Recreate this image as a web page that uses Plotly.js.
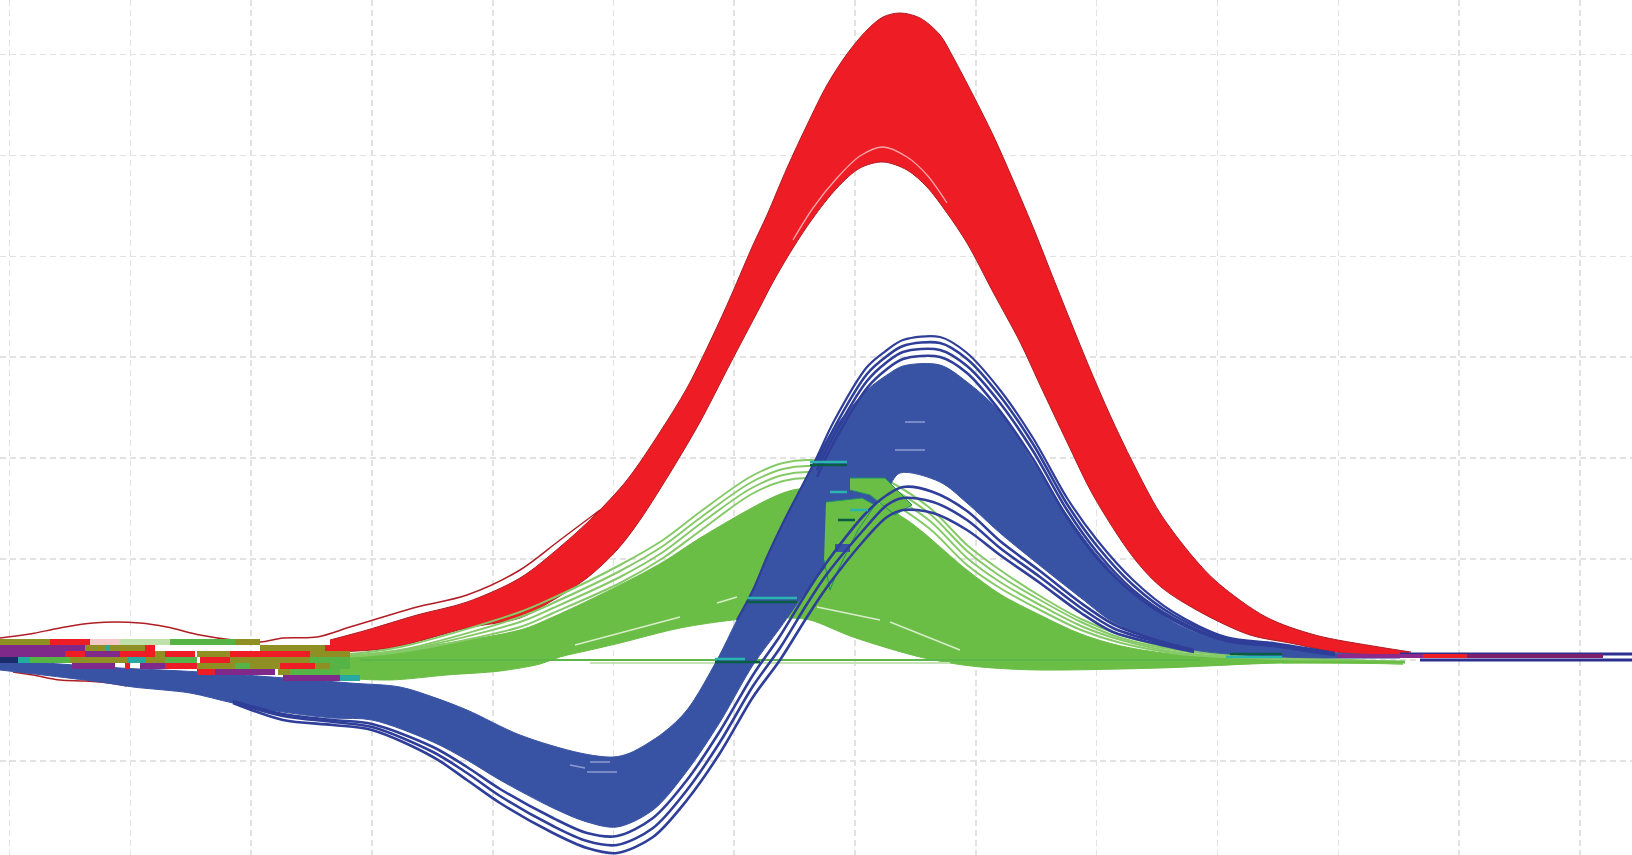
<!DOCTYPE html>
<html><head><meta charset="utf-8">
<script src="https://cdn.plot.ly/plotly-3.0.1.min.js"></script>
<style>html,body{margin:0;padding:0;background:#fff}#c{width:1632px;height:855px;filter:blur(0.55px)}</style>
</head><body><div id="c"></div>
<script>
// Red family
const redUpperX=[330,367,417,467,520,560,593,627,660,687,707,727,753,767,787,807,827,847,867,883,900,920,940,953,973,993,1013,1035,1050,1070,1090,1110,1133,1160,1193,1218,1266,1315,1379,1411];
const redUpper=[20,30,45,58,82,113,143,180,228,272,312,355,415,445,492,535,575,606,630,643,647,642,625,603,565,525,480,428,390,340,291,245,197,147,103,77,43,25,13,8];
const redLowerX=[330,390,467,520,550,587,617,640,673,700,730,760,773,793,813,837,860,883,907,927,947,967,993,1020,1040,1067,1093,1133,1161,1202,1250,1290,1335,1400];
const redLower=[8,12,32,42,58,82,110,140,192,238,296,353,378,412,442,472,492,498,490,473,447,417,368,318,275,218,165,103,73,47,25,17,8,3];
const redOutlierX=[0,30,60,93,140,167,200,233,260,283,317,350,383,417,467,520,560,600];
const redOutlier=[22,26,32,37,37,33,25,20,18,22,23,33,43,53,65,90,120,150];
const redInnerX=[793,813,837,860,883,907,927,947];
const redInner=[420,452,482,504,513,503,485,457];
const redLowTailX=[13,33,60,85,110,127];
const redLowTail=[-12,-15,-20,-21,-23,-26];
// Green family
const greenEdgeX=[340,400,520,553,620,663,700,750,783,810,860,887,930,967,1000,1040,1081,1121,1181,1282,1403];
const green1=[5,13,48,62,95,120,148,183,197,200,192,180,152,115,90,64,41,25,10,3,-2];
const green2=[4,10,43,57,89,114,142,177,191,194,186,174,146,109,84,60,38,22,9,2,-2];
const green3=[3,9,38,52,83,108,136,171,185,188,180,167,139,102,78,55,34,20,7,1,-3];
const green4=[3,8,33,47,77,102,129,165,179,182,173,160,131,95,72,50,30,17,6,1,-3];
const greenCoreTopX=[340,400,520,553,620,663,700,767,793,830,860,907,967,1000,1040,1081,1121,1181,1282,1403];
const greenCoreTop=[3,10,30,43,75,98,122,160,170,172,165,140,90,66,45,26,14,5,0,-4];
const greenCoreLowX=[340,390,447,500,540,560,590,620,680,733,760,790,810,853,920,963,993,1040,1160,1282,1403];
const greenCoreLow=[-18,-20,-15,-11,-4,3,10,17,32,40,42,42,40,23,3,-5,-8,-10,-8,-3,-4];
const greenPatchAX=[826,862,875,858,838,830,824];
const greenPatchA=[158,162,155,130,90,70,100];
const greenPatchBX=[850,885,912,895,870,850];
const greenPatchB=[182,182,155,145,165,170];
const flatGreen=[[360,1200,0]];
const flatFringe=[[590,950,-3]];
// Blue family
const blueCoreLowX=[0,43,100,133,190,233,283,333,372,433,467,500,553,587,617,653,687,720,753,780,807,827,850,867,887,900,940,967,1000,1033,1081,1113,1153,1194,1282,1400];
const blueCoreLow=[-10,-15,-22,-27,-33,-43,-52,-58,-60,-82,-100,-120,-148,-162,-167,-150,-111,-62,-5,32,70,95,125,145,170,187,178,157,127,100,62,38,22,10,3,2];
const blueCoreTopX=[0,60,120,200,350,400,433,467,520,580,613,630,663,687,717,737,753,767,783,800,817,833,867,887,903,940,967,1000,1033,1067,1097,1133,1173,1226,1274,1306,1335,1400];
const blueCoreTop=[0,-4,-8,-12,-23,-27,-37,-50,-75,-93,-97,-93,-73,-50,0,40,70,103,137,170,203,230,270,285,294,295,278,248,198,145,105,68,38,18,16,11,7,5];
const blueLowX=[233,283,333,372,433,467,500,553,587,617,653,687,720,753,780,807,827,867,887,903,933,967,1000,1040,1081,1113,1153,1194];
const blueLow1=[-43,-60,-65,-70,-97,-120,-143,-173,-188,-193,-177,-140,-93,-37,0,43,73,123,143,150,147,130,105,77,47,28,17,8];
const blueLow2=[-42,-56,-62,-67,-92,-113,-136,-166,-181,-185,-168,-130,-82,-26,12,56,86,134,155,162,158,140,112,83,52,32,19,9];
const blueLow3=[-41,-54,-60,-64,-87,-107,-129,-158,-173,-176,-158,-120,-71,-15,24,68,98,148,165,173,168,149,119,89,57,36,21,10];
const blueUpX=[737,753,767,783,800,817,833,867,887,903,940,967,1000,1033,1067,1097,1133,1173,1226,1274,1306,1335];
const blueUp1=[40,70,103,137,170,203,237,293,310,320,323,307,270,222,162,120,80,48,23,17,12,7];
const blueUpInnerX=[817,833,867,887,903,940,967,1000,1033,1067,1097,1133,1173,1226,1274,1306,1335];
const blueUp2=[197,230,286,304,314,317,301,264,216,156,114,75,45,22,16,11,6];
const blueUp3=[190,223,279,298,308,310,294,257,209,150,108,70,42,20,15,10,6];
const blueUp4=[183,216,272,291,301,303,287,249,201,143,102,67,40,19,14,9,5];
// Light gaps inside the bands: [x0,y0,x1,y1]
const greenGaps=[[575,15,680,43],[717,57,737,63],[817,53,880,40],[890,38,960,10]];
const blueGaps=[[587,-112,617,-112],[590,-102,610,-102],[570,-105,585,-108],[905,238,925,238],[895,210,925,210]];
// Horizontal runs at the crowded baseline: [x0,x1,y]
const olive=[[0,50,18],[235,260,18],[85,145,12],[260,325,12],[155,165,6],[197,230,6],[310,350,6],[70,130,0],[145,165,0],[230,310,0],[197,240,-6],[250,280,-6],[315,330,-6],[278,290,-12]];
const purple=[[0,85,12],[0,65,6],[85,120,6],[72,115,-6],[140,165,-6],[215,275,-12],[283,340,-18]];
const redRuns=[[50,90,18],[145,155,12],[325,345,12],[65,85,6],[120,155,6],[165,195,6],[230,310,6],[200,230,0],[125,130,-6],[165,197,-6],[280,315,-6],[197,215,-12]];
const greenRuns=[[170,235,18],[30,70,0],[165,197,0],[310,350,0],[235,250,-6],[330,350,-6],[290,340,-12]];
const paleGreenRuns=[[120,170,18]];
const paleRedRuns=[[90,120,18]];
const tealRuns=[[18,30,0],[128,145,0],[105,110,12],[340,360,-18]];
const navyRuns=[[0,18,0]];
// Thin runs in the middle and the right tail
const tealThin=[[810,847,198],[747,797,62],[715,745,1],[1226,1282,3],[830,847,168],[850,868,150]];
const darkThin=[[810,847,195],[747,797,58],[715,760,-2],[1230,1282,6],[838,855,140]];
const blueBlocks=[[835,850,112]];
const navyThin=[[1400,1632,6],[1420,1632,0]];
const purpleThin=[[1337,1423,4]];
const maroonThin=[[1467,1603,4]];
const redThin=[[1423,1467,4]];
const greenThin=[[1282,1405,-2]];

const RED='#ee1c25',DKRED='#b01d24',BLUE='#3953a4',NAVY='#2f3e98',GREEN='#6abd45',LTG='#86ca68';
const t=[];
function curve(x,y,color,width,extra){t.push(Object.assign({x:x,y:y,mode:'lines',hoverinfo:'skip',line:{color:color,width:width,shape:'spline',smoothing:0.9}},extra||{}));}
function band(xl,yl,xu,yu,color,edge,w){curve(xl,yl,edge,w);curve(xu,yu,edge,w,{fill:'tonexty',fillcolor:color});}
function runs(list,color,width){const x=[],y=[];list.forEach(r=>{x.push(r[0],r[1],null);y.push(r[2],r[2],null);});t.push({x:x,y:y,mode:'lines',hoverinfo:'skip',line:{color:color,width:width}});}
function gaps(list,color,width){const x=[],y=[];list.forEach(r=>{x.push(r[0],r[2],null);y.push(r[1],r[3],null);});t.push({x:x,y:y,mode:'lines',hoverinfo:'skip',line:{color:color,width:width}});}

// red
band(redLowerX,redLower,redUpperX,redUpper,RED,DKRED,1);
curve(redOutlierX,redOutlier,DKRED,1.5);
curve(redInnerX,redInner,'#f7a6a8',1.3);
curve(redLowTailX,redLowTail,DKRED,1.5);
// green
band(greenCoreLowX,greenCoreLow,greenCoreTopX,greenCoreTop,GREEN,GREEN,1);
[green1,green2,green3,green4].forEach(v=>curve(greenEdgeX,v,LTG,2));
gaps(greenGaps,'#d8eecb',1.5);
runs(flatFringe,'#c5e3b5',2);
runs(flatGreen,'#5cb648',2.2);
// blue
band(blueCoreLowX,blueCoreLow,blueCoreTopX,blueCoreTop,BLUE,BLUE,1);
t.push({x:greenPatchAX,y:greenPatchA,mode:'lines',fill:'toself',fillcolor:GREEN,hoverinfo:'skip',line:{color:'#1d8f6a',width:1}});
t.push({x:greenPatchBX,y:greenPatchB,mode:'lines',fill:'toself',fillcolor:GREEN,hoverinfo:'skip',line:{color:'#1d8f6a',width:1}});
runs(blueBlocks,BLUE,8);
gaps(blueGaps,'#8f9bd0',1.5);
[blueLow1,blueLow2,blueLow3].forEach(v=>curve(blueLowX,v,NAVY,2.6));
curve(blueUpX,blueUp1,NAVY,2.2);
[blueUp2,blueUp3,blueUp4].forEach(v=>curve(blueUpInnerX,v,NAVY,2.6));
// baseline runs
runs(paleRedRuns,'#f6c9c9',6);
runs(paleGreenRuns,'#bfe0a8',6);
runs(purple,'#7f2a8a',6);
runs(olive,'#8f8f24',6);
runs(redRuns,RED,6);
runs(greenRuns,'#56b447',6);
runs(tealRuns,'#25a9a0',6);
runs(navyRuns,'#1b2a6b',6);
runs(greenThin,GREEN,3);
runs(navyThin,'#2b3090',3);
runs(purpleThin,'#8a2a8c',4);
runs(maroonThin,'#7d1f6d',4);
runs(redThin,RED,4);
runs(darkThin,'#0a5d45',2.5);
runs(tealThin,'#29b6ae',2.5);

const grid={showgrid:true,gridcolor:'#e2e2e2',gridwidth:1.6,griddash:'6px,4px',zeroline:false,showline:false,showticklabels:false,ticks:''};
Plotly.newPlot('c',t,{
  width:1632,height:855,margin:{l:0,r:0,t:0,b:0},showlegend:false,
  paper_bgcolor:'#fff',plot_bgcolor:'#fff',
  xaxis:Object.assign({range:[0,1632],tick0:9.5,dtick:120.8},grid),
  yaxis:Object.assign({range:[-195,660],tick0:0,dtick:100.9},grid)
},{displayModeBar:false,staticPlot:true});
</script></body></html>
